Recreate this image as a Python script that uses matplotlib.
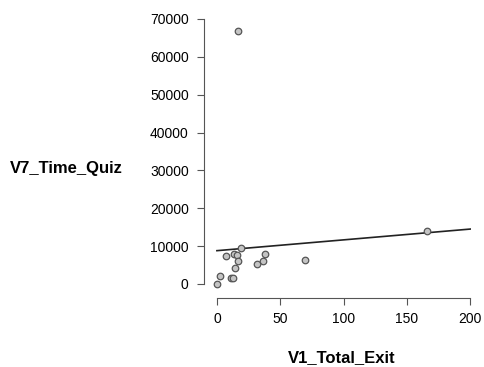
import numpy as np
from matplotlib import pyplot as plt

plt.rcParams['font.family'] = ['Liberation Sans', 'DejaVu Sans']

total_exit = [18.9, 7.1, 13.6, 15.5, 16.3, 38.0, 36.5, 32.0, 13.9, 2.4, 0.3, 11.0, 12.8, 69.8, 165.6, 16.8]
time_quiz = [9430, 7400, 7900, 7660, 6160, 7900, 6000, 5280, 4230, 2030, 80, 1580, 1500, 6250, 14000, 66800]

x_ticks = [0, 50, 100, 150, 200]
y_ticks = [0, 10000, 20000, 30000, 40000, 50000, 60000, 70000]

fig = plt.figure(figsize=(4.85, 3.67), dpi=100)
ax = fig.add_axes([0.4206, 0.188, 0.5505, 0.7657])

ax.scatter(total_exit, time_quiz, s=22, facecolor='#c4c4c4', edgecolor='#555555', linewidth=0.9, zorder=3)

# least squares line
slope, intercept = np.polyfit(total_exit, time_quiz, 1)
line_x = np.array([0, 200])
ax.plot(line_x, intercept + slope * line_x, color='#222222', linewidth=1.2, zorder=2)

ax.set_xlim(-10.2, 200.5)
ax.set_ylim(-3700, 70500)
ax.set_xticks(x_ticks)
ax.set_yticks(y_ticks)
ax.tick_params(labelsize=10, length=5, width=0.8, color='#555555')
ax.tick_params(axis='y', pad=6)
ax.tick_params(axis='x', pad=5)
for side in ['top', 'right']:
    ax.spines[side].set_visible(False)
ax.spines['left'].set_bounds(0, 70000)
ax.spines['bottom'].set_bounds(0, 200)
for side in ['left', 'bottom']:
    ax.spines[side].set_color('#555555')
    ax.spines[side].set_linewidth(0.8)

fig.text(66 / 485, 1 - 168 / 367, 'V7_Time_Quiz', ha='center', va='center', fontsize=12, fontweight='bold')
fig.text(342 / 485, 1 - 358 / 367, 'V1_Total_Exit', ha='center', va='center', fontsize=12, fontweight='bold')

plt.savefig('out.png', dpi=100)
plt.close()
